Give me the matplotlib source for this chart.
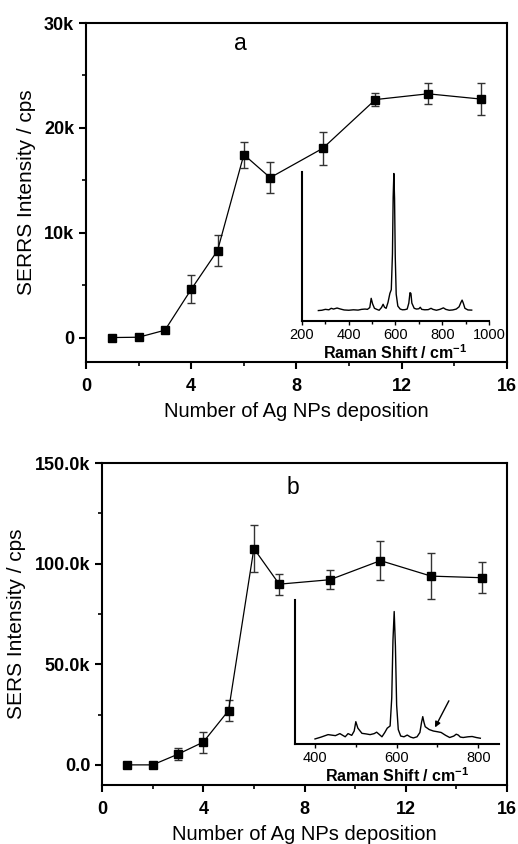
import numpy as np
import matplotlib
matplotlib.use("Agg")
import matplotlib.pyplot as plt
from matplotlib.ticker import FixedLocator, MultipleLocator

plt.rcParams['font.family'] = ['Liberation Sans', 'DejaVu Sans']

# deposition cycles
n_dep = [1, 2, 3, 4, 5, 6, 7, 9, 11, 13, 15]

# panel a: SERRS intensity (cps) and error bars
serrs = [0, 30, 700, 4600, 8300, 17450, 15250, 18050, 22700, 23250, 22750]
serrs_err = [0, 0, 0, 1350, 1450, 1250, 1450, 1600, 600, 1000, 1550]

# panel b: SERS intensity (cps) and error bars
sers = [0, 0, 5300, 11300, 27000, 107500, 89800, 92000, 101500, 93800, 93000]
sers_err = [0, 0, 2900, 5200, 5000, 11700, 5200, 4800, 9700, 11300, 7600]

# inset a spectrum (Raman shift cm-1, relative intensity)
shift_a = [270, 285, 300, 315, 325, 335, 350, 365, 380, 400, 420, 440, 455, 470,
           480, 490, 496, 502, 510, 520, 530, 540, 547, 553, 560, 568, 576, 582,
           587, 590, 593, 596, 599, 603, 610, 620, 630, 640, 650, 657, 662, 666,
           670, 680, 690, 700, 706, 712, 725, 740, 752, 760, 775, 790, 805, 815,
           830, 845, 860, 872, 880, 885, 890, 897, 910, 926]
int_a = [0.070, 0.072, 0.078, 0.075, 0.085, 0.080, 0.087, 0.080, 0.074, 0.072,
         0.075, 0.073, 0.078, 0.080, 0.078, 0.090, 0.152, 0.115, 0.085, 0.078,
         0.072, 0.090, 0.112, 0.092, 0.085, 0.125, 0.185, 0.210, 0.450, 0.830,
         0.990, 0.820, 0.430, 0.180, 0.100, 0.080, 0.075, 0.076, 0.080, 0.120,
         0.190, 0.185, 0.120, 0.085, 0.080, 0.082, 0.092, 0.078, 0.075, 0.076,
         0.085, 0.078, 0.072, 0.078, 0.088, 0.078, 0.072, 0.074, 0.080, 0.095,
         0.125, 0.140, 0.120, 0.085, 0.074, 0.073]

# inset b spectrum
shift_b = [400, 415, 432, 450, 461, 468, 474, 481, 490, 496, 500, 505, 515, 525,
           535, 545, 551, 558, 564, 571, 577, 584, 588, 591, 594, 597, 600, 604,
           610, 618, 626, 634, 641, 650, 657, 661, 664, 667, 670, 680, 690, 700,
           709, 720, 730, 740, 746, 751, 756, 763, 775, 785, 795, 805]
int_b = [0.035, 0.048, 0.065, 0.058, 0.072, 0.060, 0.050, 0.072, 0.060, 0.090,
         0.155, 0.110, 0.074, 0.070, 0.065, 0.072, 0.082, 0.065, 0.050, 0.080,
         0.110, 0.125, 0.320, 0.720, 0.920, 0.680, 0.270, 0.100, 0.055, 0.050,
         0.062, 0.048, 0.042, 0.050, 0.080, 0.150, 0.190, 0.150, 0.120, 0.100,
         0.090, 0.085, 0.080, 0.060, 0.045, 0.055, 0.068, 0.062, 0.048, 0.045,
         0.050, 0.052, 0.045, 0.040]

# arrow in inset b (tail, head)
arrow_tail = (728, 0.30)
arrow_head = (694, 0.115)

ytick_a = [0, 10000, 20000, 30000]
ytick_a_lab = ["0", "10k", "20k", "30k"]
ytick_b = [0, 50000, 100000, 150000]
ytick_b_lab = ["0.0", "50.0k", "100.0k", "150.0k"]


def style_main(ax):
    for s in ax.spines.values():
        s.set_linewidth(1.5)
    ax.tick_params(which="major", direction="out", length=5, width=1.5,
                   labelsize=13, top=False, right=False)
    ax.tick_params(axis="x", which="major", pad=6.5)
    ax.tick_params(which="minor", direction="out", length=3, width=1.2,
                   top=False, right=False)
    ax.xaxis.set_major_locator(FixedLocator([0, 4, 8, 12, 16]))
    ax.xaxis.set_minor_locator(MultipleLocator(2))
    ax.set_xlim(0, 16)
    for lab in ax.get_xticklabels() + ax.get_yticklabels():
        lab.set_fontweight("bold")
    ax.set_xlabel("Number of Ag NPs deposition", fontsize=14.5, labelpad=5)


def plot_series(ax, y, yerr):
    ax.errorbar(n_dep, y, yerr=yerr, fmt="s-", color="black", ms=6.3,
                lw=0.9, elinewidth=1.0, ecolor="#333333", capsize=2.8,
                capthick=1.0)


def style_inset(ax):
    ax.spines["top"].set_visible(False)
    ax.spines["right"].set_visible(False)
    ax.spines["left"].set_linewidth(1.5)
    ax.spines["bottom"].set_linewidth(1.5)
    ax.set_yticks([])
    ax.patch.set_alpha(0)
    ax.tick_params(which="major", direction="out", length=3, width=1,
                   labelsize=10.5, pad=2)
    ax.tick_params(which="minor", direction="out", length=2, width=1)
    ax.xaxis.set_minor_locator(MultipleLocator(100))
    ax.set_xlabel("Raman Shift / cm$^{\\mathregular{-1}}$", fontsize=11.5,
                  fontweight="bold", labelpad=1)
    ax.set_ylim(0, 1)


fig = plt.figure(figsize=(5.18, 8.44), dpi=100)

# panel a
ax1 = fig.add_axes([0.166, 0.571, 0.8127, 0.4017])
plot_series(ax1, serrs, serrs_err)
ax1.set_ylim(-2340, 30000)
ax1.yaxis.set_major_locator(FixedLocator(ytick_a))
ax1.yaxis.set_minor_locator(MultipleLocator(5000))
ax1.set_yticklabels(ytick_a_lab)
style_main(ax1)
ax1.set_ylabel("SERRS Intensity / cps", fontsize=15, labelpad=6)
ax1.text(0.366, 0.94, "a", transform=ax1.transAxes, fontsize=16.5,
         ha="center", va="center")

ins1 = fig.add_axes([0.583, 0.6197, 0.361, 0.1765])
ins1.plot(shift_a, int_a, color="black", lw=1.0)
ins1.set_xlim(200, 1000)
ins1.set_xticks([200, 400, 600, 800, 1000])
style_inset(ins1)

# panel b
ax2 = fig.add_axes([0.1969, 0.0699, 0.7819, 0.3815])
plot_series(ax2, sers, sers_err)
ax2.set_ylim(-10000, 150000)
ax2.yaxis.set_major_locator(FixedLocator(ytick_b))
ax2.yaxis.set_minor_locator(MultipleLocator(25000))
ax2.set_yticklabels(ytick_b_lab)
style_main(ax2)
ax2.set_ylabel("SERS Intensity / cps", fontsize=15, labelpad=6)
ax2.text(0.472, 0.925, "b", transform=ax2.transAxes, fontsize=16.5,
         ha="center", va="center")

ins2 = fig.add_axes([0.5695, 0.1185, 0.394, 0.1706])
ins2.plot(shift_b, int_b, color="black", lw=1.0)
ins2.set_xlim(351, 851)
ins2.set_xticks([400, 600, 800])
style_inset(ins2)
ins2.annotate("", xy=arrow_head, xytext=arrow_tail,
              arrowprops=dict(arrowstyle="-|>", color="black", lw=1.0,
                              mutation_scale=8, shrinkA=0, shrinkB=0))

fig.savefig("out.png", dpi=100)
